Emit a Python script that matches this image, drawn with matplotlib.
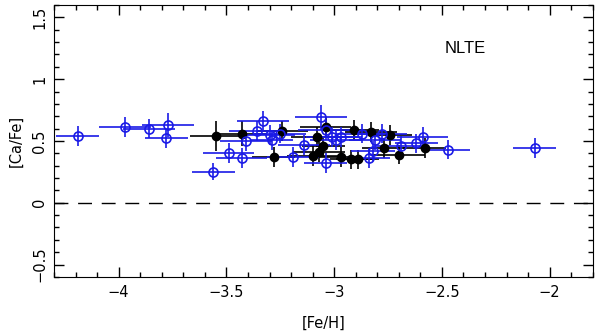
import matplotlib
matplotlib.use("Agg")
import matplotlib.pyplot as plt
from matplotlib.ticker import MultipleLocator
import numpy as np

plt.rcParams['font.family'] = ['DejaVu Sans']

# blue open circles
blue_feh = [-4.19, -3.97, -3.86, -3.77, -3.78, -3.56, -3.49, -3.43, -3.41, -3.36,
            -3.33, -3.30, -3.29, -3.25, -3.19, -3.14, -3.06, -3.04, -3.04, -3.01,
            -2.99, -2.97, -2.87, -2.84, -2.82, -2.81, -2.78, -2.69, -2.62, -2.59,
            -2.47, -2.07]
blue_ca = [0.54, 0.61, 0.60, 0.63, 0.52, 0.25, 0.40, 0.36, 0.50, 0.58,
           0.66, 0.55, 0.51, 0.56, 0.37, 0.47, 0.69, 0.59, 0.32, 0.53,
           0.51, 0.53, 0.56, 0.36, 0.42, 0.51, 0.56, 0.46, 0.48, 0.53,
           0.43, 0.44]
blue_xerr = [0.10, 0.12, 0.12, 0.12, 0.10, 0.10, 0.12, 0.12, 0.12, 0.13,
             0.12, 0.12, 0.10, 0.12, 0.12, 0.12, 0.12, 0.13, 0.10, 0.12,
             0.12, 0.10, 0.12, 0.10, 0.10, 0.12, 0.12, 0.12, 0.10, 0.12,
             0.10, 0.10]
blue_yerr = [0.08, 0.08, 0.08, 0.10, 0.08, 0.07, 0.08, 0.08, 0.08, 0.08,
             0.08, 0.08, 0.08, 0.08, 0.08, 0.08, 0.10, 0.08, 0.08, 0.08,
             0.08, 0.08, 0.08, 0.08, 0.08, 0.08, 0.08, 0.08, 0.08, 0.08,
             0.08, 0.08]

# black filled circles
black_feh = [-3.55, -3.43, -3.28, -3.24, -3.10, -3.07, -3.05, -3.04, -3.08, -2.97,
             -2.92, -2.89, -2.91, -2.83, -2.74, -2.77, -2.70, -2.58]
black_ca = [0.54, 0.56, 0.37, 0.58, 0.38, 0.41, 0.46, 0.61, 0.53, 0.37,
            0.35, 0.35, 0.59, 0.57, 0.55, 0.44, 0.39, 0.44]
black_xerr = [0.12, 0.12, 0.10, 0.12, 0.12, 0.12, 0.10, 0.12, 0.12, 0.10,
              0.10, 0.10, 0.12, 0.12, 0.10, 0.10, 0.12, 0.10]
black_yerr = [0.12, 0.10, 0.08, 0.08, 0.08, 0.08, 0.08, 0.08, 0.08, 0.08,
              0.08, 0.08, 0.08, 0.08, 0.08, 0.08, 0.08, 0.08]

blue = '#1a1ae6'

fig = plt.figure(figsize=(6, 3.36), dpi=100)
ax = fig.add_axes([0.09, 0.176, 0.898, 0.809])

ax.axhline(0, color='black', lw=1.0, dashes=(10, 7))

ax.errorbar(black_feh, black_ca, xerr=black_xerr, yerr=black_yerr, fmt='o',
            color='black', ms=6, mfc='black', mec='black', elinewidth=1.2, capsize=0)
ax.errorbar(blue_feh, blue_ca, xerr=blue_xerr, yerr=blue_yerr, fmt='o',
            color=blue, ms=6.5, mfc='none', mec=blue, mew=1.2, elinewidth=1.2, capsize=0)

ax.text(-2.39, 1.25, 'NLTE', fontsize=12, ha='center', va='center',
        family='Liberation Sans')

ax.set_xlim(-4.3, -1.8)
ax.set_ylim(-0.6, 1.6)
ax.xaxis.set_major_locator(MultipleLocator(0.5))
ax.xaxis.set_minor_locator(MultipleLocator(0.1))
ax.yaxis.set_major_locator(MultipleLocator(0.5))
ax.yaxis.set_minor_locator(MultipleLocator(0.1))
ax.xaxis.set_major_formatter(plt.FuncFormatter(lambda v, p: ('%g' % v).replace('-', '\u2212')))
ax.yaxis.set_major_formatter(plt.FuncFormatter(lambda v, p: ('%g' % v).replace('-', '\u2212')))
ax.tick_params(which='both', direction='in', top=True, right=True, labelsize=10.5)
ax.tick_params(which='major', length=7, width=1)
ax.tick_params(which='minor', length=3.5, width=1)
ax.tick_params(axis='x', pad=6)
ax.tick_params(axis='y', labelrotation=90, pad=5)
for lab in ax.get_yticklabels():
    lab.set_va('center')

ax.set_xlabel('[Fe/H]', fontsize=10.5, labelpad=11)
ax.set_ylabel('[Ca/Fe]', fontsize=10.5, labelpad=6)

fig.savefig('out.png', dpi=100)
